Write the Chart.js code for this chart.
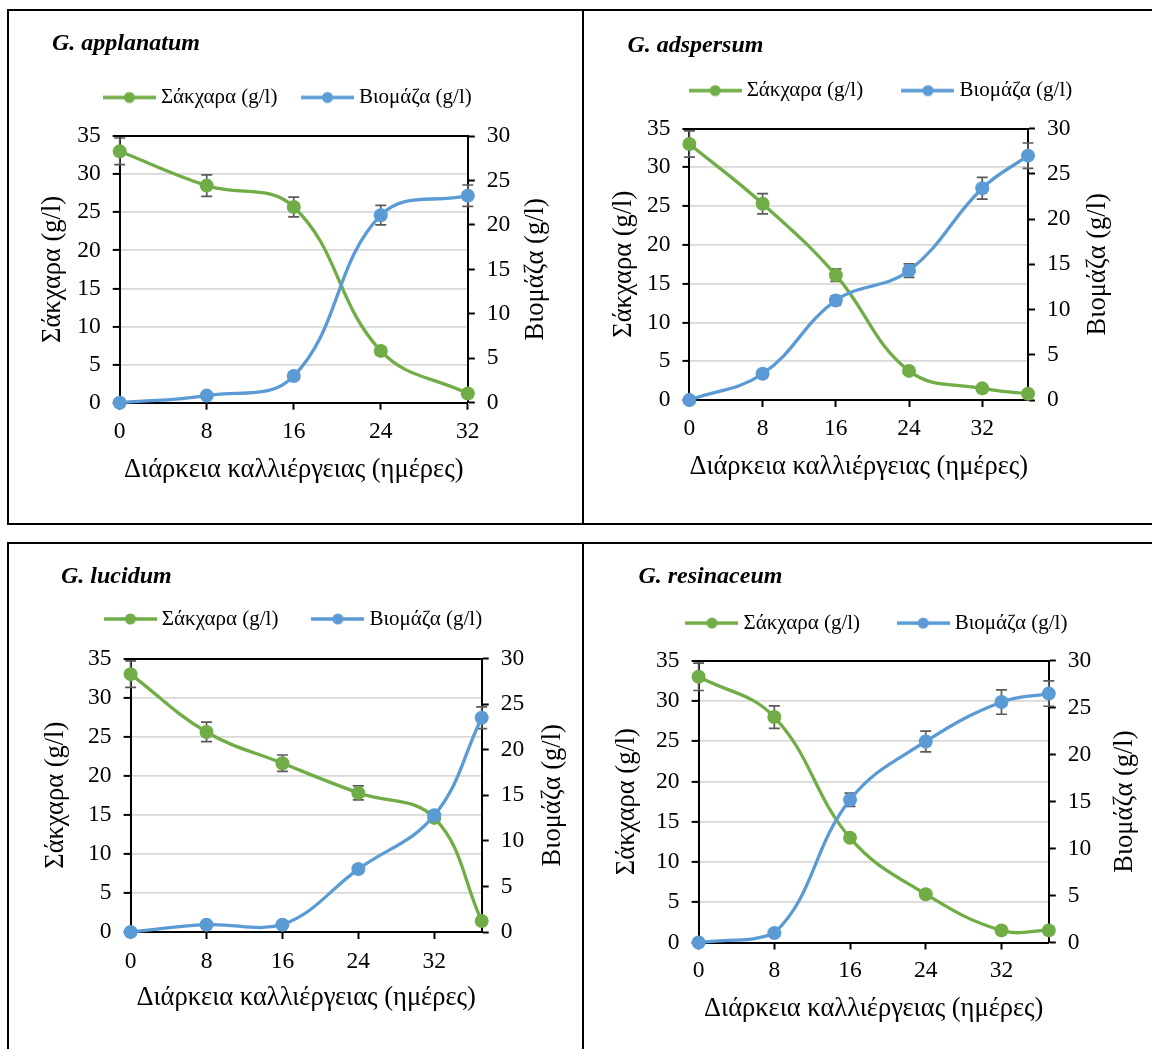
<!DOCTYPE html>
<html>
<head>
<meta charset="utf-8">
<script src="https://cdn.jsdelivr.net/npm/chart.js@4.4.1/dist/chart.umd.min.js"></script>
<style>
html,body{margin:0;padding:0;background:#fff;}
body{width:1152px;height:1049px;overflow:hidden;position:relative;}
.ln{position:absolute;background:#000;}
canvas{position:absolute;}
</style>
</head>
<body>
<div class="ln" style="left:7px;top:9px;width:1145px;height:2px"></div>
<div class="ln" style="left:7px;top:523px;width:1145px;height:2px"></div>
<div class="ln" style="left:7px;top:542px;width:1145px;height:2px"></div>
<div class="ln" style="left:7px;top:9px;width:2px;height:516px"></div>
<div class="ln" style="left:582px;top:9px;width:2px;height:516px"></div>
<div class="ln" style="left:7px;top:542px;width:2px;height:507px"></div>
<div class="ln" style="left:582px;top:542px;width:2px;height:507px"></div>
<canvas id="c1"></canvas>
<canvas id="c2"></canvas>
<canvas id="c3"></canvas>
<canvas id="c4"></canvas>
<script>
// ---------- labels ----------
const SUGAR_LABEL = 'Σάκχαρα (g/l)';
const BIOMASS_LABEL = 'Βιομάζα (g/l)';
const X_TITLE = 'Διάρκεια καλλιέργειας (ημέρες)';
const Y_TITLE = 'Σάκχαρα (g/l)';
const Y2_TITLE = 'Βιομάζα (g/l)';

// ---------- tick labels ----------
const xDayTicks = [0, 8, 16, 24, 32];
const ySugarTicks = [0, 5, 10, 15, 20, 25, 30, 35];
const yBiomassTicks = [0, 5, 10, 15, 20, 25, 30];

// ---------- G. applanatum ----------
const daysApplanatum = [0, 8, 16, 24, 32];
const sugarApplanatum = [33.0, 28.5, 25.7, 6.8, 1.2];
const sugarErrApplanatum = [1.75, 1.4, 1.3, 0.5, 0.4];
const biomassApplanatum = [0, 0.8, 3.0, 21.1, 23.3];
const biomassErrApplanatum = [0.3, 0.3, 0.4, 1.1, 1.2];

// ---------- G. adspersum ----------
const daysAdspersum = [0, 8, 16, 24, 32, 37];
const sugarAdspersum = [33.0, 25.3, 16.1, 3.75, 1.5, 0.8];
const sugarErrAdspersum = [1.7, 1.3, 0.8, 0.4, 0.3, 0.3];
const biomassAdspersum = [0, 2.9, 11.0, 14.3, 23.4, 27.0];
const biomassErrAdspersum = [0.2, 0.3, 0.5, 0.75, 1.2, 1.4];

// ---------- G. lucidum ----------
const daysLucidum = [0, 8, 16, 24, 32, 37];
const sugarLucidum = [33.0, 25.6, 21.6, 17.8, 14.6, 1.4];
const sugarErrLucidum = [1.7, 1.25, 1.05, 0.9, 0.4, 0.3];
const biomassLucidum = [0, 0.8, 0.8, 6.9, 12.8, 23.5];
const biomassErrLucidum = [0.2, 0.3, 0.3, 0.4, 0.5, 1.2];

// ---------- G. resinaceum ----------
const daysResinaceum = [0, 8, 16, 24, 32, 37];
const sugarResinaceum = [33.0, 28.0, 13.0, 6.0, 1.5, 1.5];
const sugarErrResinaceum = [1.7, 1.4, 0.4, 0.4, 0.3, 0.3];
const biomassResinaceum = [0, 1.0, 15.2, 21.4, 25.6, 26.5];
const biomassErrResinaceum = [0.2, 0.3, 0.7, 1.1, 1.3, 1.35];

// ---------- styles ----------
const GREEN = '#70ad47';
const BLUE = '#5b9bd5';
const SERIF = "'Liberation Serif', 'Times New Roman', serif";
Chart.defaults.font.family = SERIF;
Chart.defaults.color = '#000';

const TFS = 24, TLH = TFS * 1.2;   // panel title
const LFS = 21;                    // legend
const AFS = 26.5;                  // axis titles
const KFS = 23.5;                  // tick labels
const TICK = 7;
const LEG_IMG_W = 53;              // legend line sample width
const LEG_BOX_W = 42;              // legend box width used by layout
const LEG_K = (LEG_IMG_W - LEG_BOX_W) / 2;

function legendImage(color) {
  const c = document.createElement('canvas');
  c.width = LEG_IMG_W; c.height = 16;
  const g = c.getContext('2d');
  g.strokeStyle = color; g.lineWidth = 3.3;
  g.beginPath(); g.moveTo(0, 8); g.lineTo(LEG_IMG_W, 8); g.stroke();
  g.fillStyle = color;
  g.beginPath(); g.arc(LEG_IMG_W / 2, 8, 5.5, 0, Math.PI * 2); g.fill();
  return c;
}

function decorPlugin(errSets, y2TitleX) {
  return {
    id: 'decor',
    beforeDatasetsDraw(chart) {
      const ctx = chart.ctx;
      chart.data.datasets.forEach((ds, i) => {
        const xs = chart.scales.x, ys = chart.scales[ds.yAxisID];
        const errs = errSets[i];
        ctx.save();
        ctx.strokeStyle = '#595959';
        ctx.lineWidth = 1.7;
        ds.data.forEach((p, j) => {
          const e = errs[j];
          const px = xs.getPixelForValue(p.x);
          const a = ys.getPixelForValue(p.y + e);
          const b = ys.getPixelForValue(p.y - e);
          const cap = 5.5;
          ctx.beginPath();
          ctx.moveTo(px, a); ctx.lineTo(px, b);
          ctx.moveTo(px - cap, a); ctx.lineTo(px + cap, a);
          ctx.moveTo(px - cap, b); ctx.lineTo(px + cap, b);
          ctx.stroke();
        });
        ctx.restore();
      });
    },
    afterDraw(chart) {
      const ctx = chart.ctx;
      const t = chart.scales.y1.options.title;
      const ca = chart.chartArea;
      ctx.save();
      ctx.translate(y2TitleX, (ca.top + ca.bottom) / 2);
      ctx.rotate(-Math.PI / 2);
      ctx.font = AFS + 'px ' + SERIF;
      ctx.fillStyle = '#000';
      ctx.textAlign = 'center';
      ctx.textBaseline = 'middle';
      ctx.fillText(t.text, 0, 0);
      ctx.restore();
    }
  };
}

function buildPanel(id, cv, L, P) {
  const el = document.getElementById(id);
  el.width = cv.w; el.height = cv.h;
  el.style.left = cv.x + 'px'; el.style.top = cv.y + 'px';

  const legPad = L.legendGap + LEG_K;
  const titlePadTop = L.titleCY - cv.y - TLH / 2;
  const legendTop = L.legendCY - legPad - LFS / 2;
  const titlePadBottom = legendTop - (L.titleCY + TLH / 2);
  const legendBottom = legendTop + LFS + legPad + 10;
  const spacer = L.plotT - legendBottom;
  const padL = L.titleX - cv.x;
  const legendRight = 2 * (L.legendCX + LEG_K / 2) - L.titleX;
  const padR = cv.x + cv.w - legendRight;
  const yW = L.plotL - L.titleX;
  const y1W = legendRight - L.plotR;
  const xH = cv.y + cv.h - L.plotB;
  const xTickPad = L.xTickCY - L.plotB - TICK - KFS / 2;
  const xTitlePadB = cv.y + cv.h - L.xTitleCY - AFS / 2;
  const yTitlePadT = L.yTitleCX - L.titleX - AFS / 2;
  const y2TitleX = L.y2TitleCX - cv.x;

  const tickFont = {family: SERIF, size: KFS, lineHeight: 1};
  const axisTitleFont = {family: SERIF, size: AFS, lineHeight: 1};
  const border = {display: true, color: '#000', width: 2};

  const lineStyle = (color) => ({
    borderColor: color, backgroundColor: color,
    pointBackgroundColor: color, pointBorderColor: color,
    pointRadius: 7, pointHoverRadius: 7, pointBorderWidth: 0,
    borderWidth: 3.3, tension: 0.4, fill: false, clip: false
  });

  new Chart(el, {
    type: 'line',
    data: {
      datasets: [
        Object.assign({label: SUGAR_LABEL, yAxisID: 'y', order: 1,
          data: P.days.map((d, i) => ({x: d, y: P.sugar[i]}))}, lineStyle(GREEN)),
        Object.assign({label: BIOMASS_LABEL, yAxisID: 'y1', order: 0,
          data: P.days.map((d, i) => ({x: d, y: P.biomass[i]}))}, lineStyle(BLUE))
      ]
    },
    options: {
      responsive: false,
      animation: false,
      events: [],
      layout: {padding: {left: padL, right: padR, top: 0, bottom: 0}},
      plugins: {
        title: {
          display: true, text: P.name, align: 'start', color: '#000',
          font: {family: SERIF, size: TFS, style: 'italic', weight: 'bold', lineHeight: 1.2},
          padding: {top: titlePadTop, bottom: titlePadBottom}
        },
        legend: {
          display: true, position: 'top', align: 'center',
          labels: {
            usePointStyle: true, pointStyleWidth: LEG_BOX_W, padding: legPad,
            color: '#000', font: {family: SERIF, size: LFS},
            generateLabels: (chart) => chart.data.datasets.map((ds, i) => ({
              text: ds.label, pointStyle: legendImage(ds.borderColor),
              fillStyle: ds.borderColor, strokeStyle: ds.borderColor,
              lineWidth: 0, hidden: false, datasetIndex: i, fontColor: '#000'
            }))
          }
        },
        subtitle: {
          display: true, text: ' ', weight: 100,
          font: {size: 10, lineHeight: 1},
          padding: {top: 0, bottom: spacer - 10}
        },
        tooltip: {enabled: false}
      },
      scales: {
        x: {
          type: 'linear', min: 0, max: P.xMax,
          afterBuildTicks: (s) => { s.ticks = xDayTicks.map(v => ({value: v})); },
          ticks: {font: tickFont, color: '#000', padding: xTickPad, maxRotation: 0, autoSkip: false},
          grid: {drawOnChartArea: false, drawTicks: true, tickLength: TICK, tickColor: '#000', tickWidth: 2, color: '#000'},
          border: border,
          title: {display: true, text: X_TITLE, color: '#000', font: axisTitleFont, padding: {top: 0, bottom: xTitlePadB}},
          afterFit: (s) => { s.height = xH; }
        },
        y: {
          type: 'linear', position: 'left', min: 0, max: 35,
          afterBuildTicks: (s) => { s.ticks = ySugarTicks.map(v => ({value: v})); },
          ticks: {font: tickFont, color: '#000', padding: 12},
          grid: {
            color: (c) => (c.tick && (c.tick.value === 35 || c.tick.value === 0)) ? '#000' : '#d9d9d9',
            lineWidth: (c) => (c.tick && c.tick.value === 35) ? 2 : 1.8,
            tickLength: TICK, tickColor: '#000', tickWidth: 2
          },
          border: border,
          title: {display: true, text: Y_TITLE, color: '#000', font: axisTitleFont, padding: {top: yTitlePadT, bottom: 0}},
          afterFit: (s) => { s.width = yW; }
        },
        y1: {
          type: 'linear', position: 'right', min: 0, max: 30,
          afterBuildTicks: (s) => { s.ticks = yBiomassTicks.map(v => ({value: v})); },
          ticks: {font: tickFont, color: '#000', padding: 12},
          grid: {drawOnChartArea: false, tickLength: TICK, tickColor: '#000', tickWidth: 2, color: '#000'},
          border: border,
          title: {display: false, text: Y2_TITLE},
          afterFit: (s) => { s.width = y1W; }
        }
      }
    },
    plugins: [decorPlugin([P.sugarErr, P.biomassErr], y2TitleX)]
  });
}

buildPanel('c1', {x: 10, y: 12, w: 571, h: 510},
  {titleX: 52, titleCY: 44, legendCX: 287.3, legendCY: 97.5, legendGap: 23.5,
   plotL: 119.7, plotR: 467.8, plotT: 136.1, plotB: 402.7,
   xTickCY: 431.8, xTitleCY: 469.6, yTitleCX: 52.7, y2TitleCX: 536.3},
  {name: 'G. applanatum', xMax: 32, days: daysApplanatum,
   sugar: sugarApplanatum, sugarErr: sugarErrApplanatum,
   biomass: biomassApplanatum, biomassErr: biomassErrApplanatum});

buildPanel('c2', {x: 585, y: 12, w: 567, h: 510},
  {titleX: 627.4, titleCY: 45.6, legendCX: 880.45, legendCY: 90.6, legendGap: 38.3,
   plotL: 689.4, plotR: 1028, plotT: 128.5, plotB: 400,
   xTickCY: 428.7, xTitleCY: 467, yTitleCX: 623.8, y2TitleCX: 1098},
  {name: 'G. adspersum', xMax: 37, days: daysAdspersum,
   sugar: sugarAdspersum, sugarErr: sugarErrAdspersum,
   biomass: biomassAdspersum, biomassErr: biomassErrAdspersum});

buildPanel('c3', {x: 10, y: 545, w: 571, h: 504},
  {titleX: 61, titleCY: 577, legendCX: 293, legendCY: 619, legendGap: 33,
   plotL: 130.6, plotR: 481.7, plotT: 658.5, plotB: 932,
   xTickCY: 962, xTitleCY: 998, yTitleCX: 56.5, y2TitleCX: 553},
  {name: 'G. lucidum', xMax: 37, days: daysLucidum,
   sugar: sugarLucidum, sugarErr: sugarErrLucidum,
   biomass: biomassLucidum, biomassErr: biomassErrLucidum});

buildPanel('c4', {x: 585, y: 545, w: 567, h: 504},
  {titleX: 638.4, titleCY: 576.6, legendCX: 876.45, legendCY: 623.1, legendGap: 36.6,
   plotL: 698.6, plotR: 1048.8, plotT: 660.7, plotB: 942.5,
   xTickCY: 970.8, xTitleCY: 1009, yTitleCX: 627.4, y2TitleCX: 1125.4},
  {name: 'G. resinaceum', xMax: 37, days: daysResinaceum,
   sugar: sugarResinaceum, sugarErr: sugarErrResinaceum,
   biomass: biomassResinaceum, biomassErr: biomassErrResinaceum});
</script>
</body>
</html>
